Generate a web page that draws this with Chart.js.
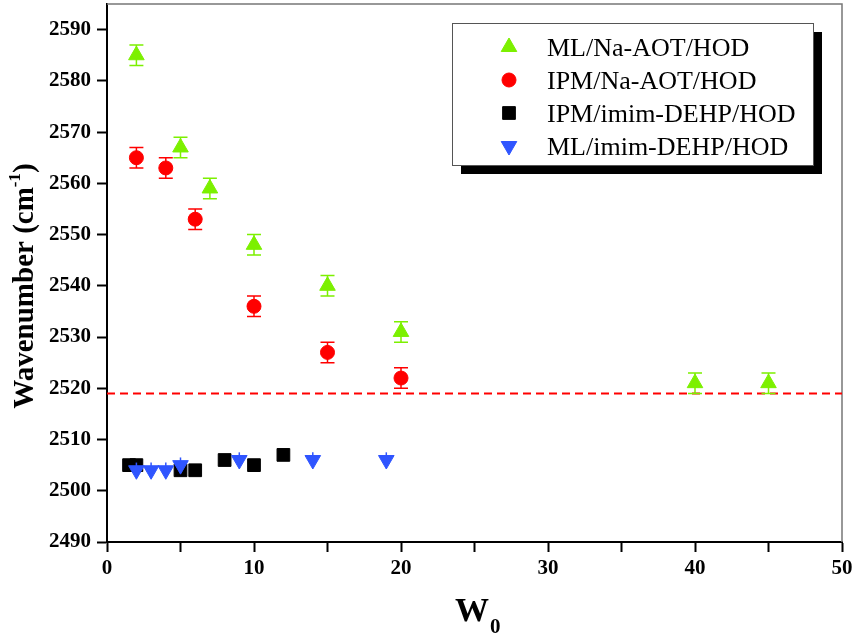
<!DOCTYPE html>
<html>
<head>
<meta charset="utf-8">
<script src="https://cdn.jsdelivr.net/npm/chart.js@4.4.1/dist/chart.umd.min.js"></script>
<style>
  html, body { margin: 0; padding: 0; background: #fff; }
</style>
</head>
<body>
<canvas id="chart" width="855" height="638"></canvas>
<script>
// W0 vs. OD stretch wavenumber, four microemulsion systems.

const mlAotX = [2, 5, 7, 10, 15, 20, 40, 45];
const mlAotY = [2585, 2567, 2559, 2548, 2540, 2531, 2521, 2521];
const mlAotErr = [2, 2, 2, 2, 2, 2, 2, 2];

const ipmAotX = [2, 4, 6, 10, 15, 20];
const ipmAotY = [2565, 2563, 2553, 2536, 2527, 2522];
const ipmAotErr = [2, 2, 2, 2, 2, 2];

const ipmDehpX = [1.5, 2, 5, 6, 8, 10, 12];
const ipmDehpY = [2505, 2505, 2504, 2504, 2506, 2505, 2507];

const mlDehpX = [2, 3, 4, 5, 9, 14, 19];
const mlDehpY = [2504, 2504, 2504, 2505, 2506, 2506, 2506];
const mlDehpErr = [1.5, 1.5, 1.5, 1.5, 1.5, 1.5, 1.5];

const refLineX = [0, 50];
const refLineY = [2519, 2519];

const xTicks = [0, 10, 20, 30, 40, 50];
const yTicks = [2490, 2500, 2510, 2520, 2530, 2540, 2550, 2560, 2570, 2580, 2590];

const C = { green: "#7cf000", red: "#ff0000", black: "#000000", blue: "#2f55ff", frame: "#777777" };
const SERIF = "'Liberation Serif', 'Times New Roman', serif";

const pts = (xs, ys) => xs.map((x, i) => ({ x, y: ys[i] }));

const series = [
  { label: "ML/Na-AOT/HOD", color: C.green, style: "triangle", rot: 0, r: 9, x: mlAotX, y: mlAotY, err: mlAotErr, cap: 7 },
  { label: "IPM/Na-AOT/HOD", color: C.red, style: "circle", rot: 0, r: 7, x: ipmAotX, y: ipmAotY, err: ipmAotErr, cap: 7 },
  { label: "IPM/imim-DEHP/HOD", color: C.black, style: "rect", rot: 0, r: 9, x: ipmDehpX, y: ipmDehpY },
  { label: "ML/imim-DEHP/HOD", color: C.blue, style: "triangle", rot: 180, r: 9, x: mlDehpX, y: mlDehpY, err: mlDehpErr, cap: 0 },
];

// drawn in reverse: last dataset first
const drawOrder = [series[3], series[2], series[0], series[1]];
const datasets = drawOrder.map((s) => ({
  label: s.label, type: "scatter", data: pts(s.x, s.y), err: s.err, cap: s.cap,
  pointStyle: s.style, rotation: s.rot, pointRadius: s.r,
  backgroundColor: s.color, borderColor: s.color, borderWidth: 1,
}));
datasets.push({
  label: "ref", type: "line", data: pts(refLineX, refLineY), borderColor: C.red,
  borderWidth: 2, borderDash: [8, 5], pointRadius: 0, fill: false,
});

const errorBars = {
  id: "errorBars",
  beforeDatasetDraw(chart, args) {
    const ds = chart.data.datasets[args.index];
    if (!ds.err) return;
    const { ctx, scales: { x, y } } = chart;
    ctx.save();
    ctx.strokeStyle = ds.borderColor;
    ctx.lineWidth = 1.5;
    ds.data.forEach((p, i) => {
      const px = x.getPixelForValue(p.x);
      const top = y.getPixelForValue(p.y + ds.err[i]);
      const bot = y.getPixelForValue(p.y - ds.err[i]);
      ctx.beginPath();
      ctx.moveTo(px, top); ctx.lineTo(px, bot);
      if (ds.cap) {
        ctx.moveTo(px - ds.cap, top); ctx.lineTo(px + ds.cap, top);
        ctx.moveTo(px - ds.cap, bot); ctx.lineTo(px + ds.cap, bot);
      }
      ctx.stroke();
    });
    ctx.restore();
  },
};

const frame = {
  id: "frame",
  beforeDatasetsDraw(chart) {
    const { ctx, chartArea: a } = chart;
    ctx.save();
    ctx.strokeStyle = C.frame;
    ctx.lineWidth = 1.5;
    ctx.beginPath();
    ctx.moveTo(a.left, a.top); ctx.lineTo(a.right, a.top); ctx.lineTo(a.right, a.bottom);
    ctx.stroke();
    ctx.restore();
  },
};

const decor = {
  id: "decor",
  afterDraw(chart) {
    const ctx = chart.ctx;
    ctx.save();
    // legend box with drop shadow
    ctx.fillStyle = "#000";
    ctx.fillRect(461, 32, 361, 142);
    ctx.fillStyle = "#fff";
    ctx.fillRect(452, 23, 361, 142);
    ctx.strokeStyle = "#555";
    ctx.lineWidth = 1;
    ctx.strokeRect(452.5, 23.5, 361, 142);
    const rows = [47, 80, 113, 146];
    ctx.font = "26px " + SERIF;
    ctx.textBaseline = "middle";
    series.forEach((s, i) => {
      ctx.fillStyle = s.color;
      ctx.strokeStyle = s.color;
      Chart.helpers.drawPoint(ctx, { pointStyle: s.style, radius: s.r, rotation: s.rot, borderWidth: 1 }, 509, rows[i]);
      ctx.fillStyle = "#000";
      ctx.fillText(s.label, 547, rows[i] + 2);
    });

    // axis titles
    ctx.fillStyle = "#000";
    ctx.textBaseline = "alphabetic";
    ctx.textAlign = "left";
    ctx.font = "bold 34px " + SERIF;
    ctx.fillText("W", 455, 621);
    ctx.font = "bold 21px " + SERIF;
    ctx.fillText("0", 490, 633);

    ctx.translate(33, 286);
    ctx.rotate(-Math.PI / 2);
    const big = "bold 29px " + SERIF, small = "bold 17px " + SERIF;
    ctx.font = big;
    const w1 = ctx.measureText("Wavenumber (cm").width;
    const w3 = ctx.measureText(")").width;
    ctx.font = small;
    const w2 = ctx.measureText("-1").width;
    let x0 = -(w1 + w2 + w3) / 2;
    ctx.font = big;
    ctx.fillText("Wavenumber (cm", x0, 0);
    ctx.font = small;
    ctx.fillText("-1", x0 + w1, -13);
    ctx.font = big;
    ctx.fillText(")", x0 + w1 + w2, 0);
    ctx.restore();
  },
};

const tickFont = { family: SERIF, size: 21, weight: "bold" };
const axisCommon = {
  type: "linear",
  grid: { drawOnChartArea: false, drawTicks: true, tickLength: 10, tickColor: "#000", tickWidth: 2 },
  border: { display: true, color: "#000", width: 2 },
};

new Chart(document.getElementById("chart"), {
  type: "scatter",
  data: { datasets },
  options: {
    responsive: false,
    animation: false,
    layout: { autoPadding: false, padding: { top: 4, right: 13, left: 0, bottom: 0 } },
    plugins: { legend: { display: false }, tooltip: { enabled: false } },
    scales: {
      x: Object.assign({}, axisCommon, {
        min: 0, max: 50,
        ticks: { stepSize: 5, color: "#000", font: tickFont, padding: 4, maxRotation: 0,
                 callback: (v) => (xTicks.includes(v) ? v : "") },
        afterFit: (s) => { s.height = 96; s.paddingLeft = 0; s.paddingRight = 0; },
      }),
      y: Object.assign({}, axisCommon, {
        min: 2490, max: 2595,
        ticks: { stepSize: 5, color: "#000", font: tickFont, padding: 6,
                 callback: (v) => (yTicks.includes(v) ? v : "") },
        afterFit: (s) => { s.width = 107; s.paddingTop = 0; s.paddingBottom = 0; },
      }),
    },
  },
  plugins: [frame, errorBars, decor],
});
</script>
</body>
</html>
